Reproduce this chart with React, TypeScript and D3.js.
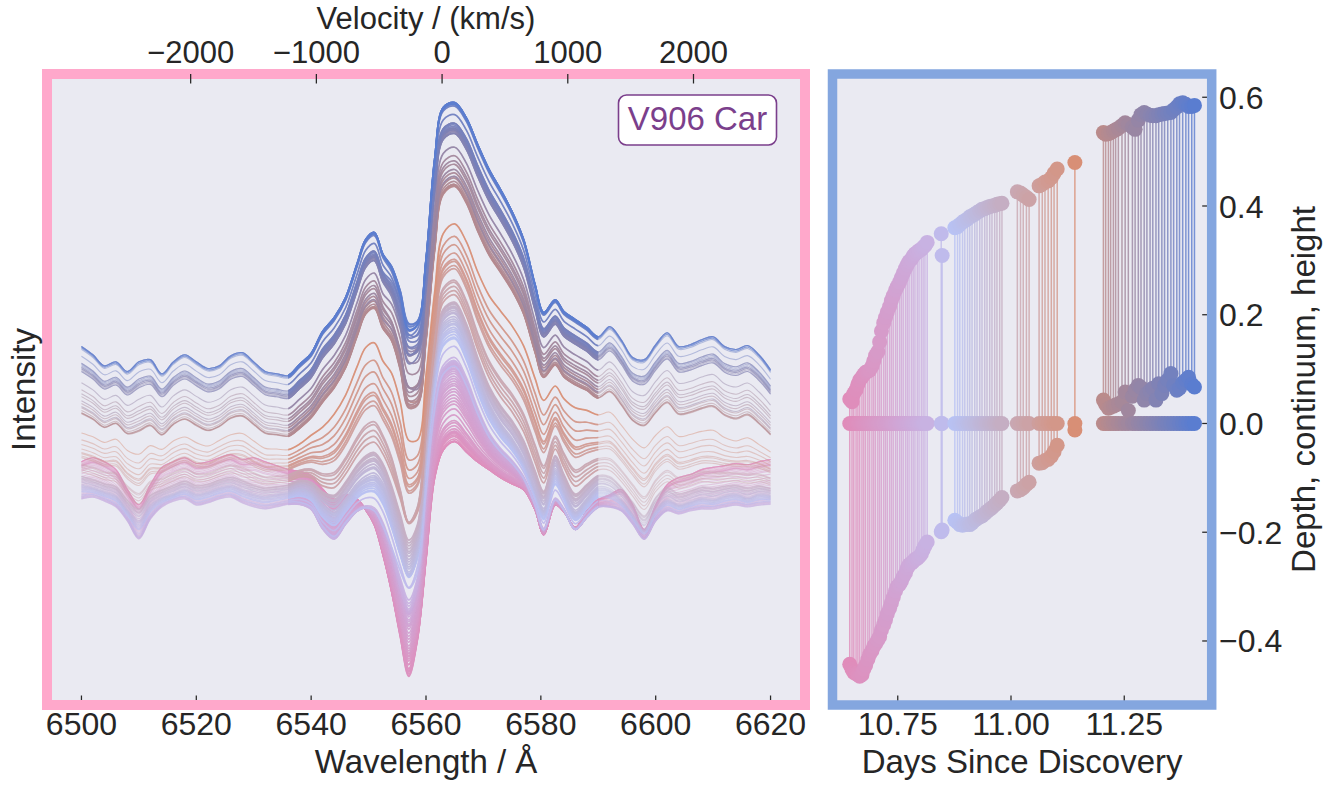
import React from 'react';
import * as d3 from 'd3';

// ---------------- DATA ----------------
// Wavelength grid (Å) on which the spectral profiles were read
const WAVE_GRID = [
  6500, 6502, 6504, 6506, 6508, 6510, 6512, 6514, 6516, 6518, 6520, 6522, 6524, 6526, 6528, 6530, 6532, 6534, 6536, 6538, 6540, 6542, 6544, 6546, 6548,
  6549.5, 6551, 6552.5, 6554, 6555.5, 6557, 6558.5, 6560, 6561.5, 6563,
  6565, 6567, 6569, 6571, 6573, 6575, 6577, 6579,
  6580.5, 6582.5, 6584, 6586, 6588, 6590,
  6592, 6594, 6596, 6598, 6600, 6602, 6604, 6606, 6608, 6610, 6612, 6614, 6616, 6618, 6620,
];

// Representative profiles (normalised intensity)
const TPL_EARLY = [
  1.018, 1.027, 1.018, 1.0, 0.955, 0.92, 0.966, 1.005, 1.018, 1.027, 1.014, 1.018, 1.027, 1.034, 1.023, 1.027, 1.018, 1.009, 1.0, 0.995, 0.986, 0.955, 0.932, 0.943, 0.932,
  0.909, 0.875, 0.807, 0.723, 0.625, 0.536, 0.614, 0.795, 0.982, 1.045,
  1.064, 1.041, 1.018, 1.0, 0.982, 0.968, 0.955, 0.909,
  0.852, 0.92, 0.905, 0.868, 0.905, 0.932,
  0.943, 0.955, 0.92, 0.864, 0.92, 0.966, 0.982, 0.989, 1.0, 1.005, 1.009, 1.014, 1.011, 1.018, 1.023,
];
const TPL_LAV = [
  0.932, 0.936, 0.927, 0.914, 0.882, 0.841, 0.886, 0.914, 0.927, 0.932, 0.918, 0.923, 0.932, 0.936, 0.923, 0.914, 0.909, 0.914, 0.92, 0.92, 0.909, 0.864, 0.841, 0.875, 0.905,
  0.914, 0.909, 0.875, 0.818, 0.75, 0.7, 0.75, 0.955, 1.148, 1.232,
  1.25, 1.205, 1.136, 1.08, 1.045, 1.018, 0.982, 0.92,
  0.864, 0.932, 0.909, 0.864, 0.891, 0.914,
  0.914, 0.905, 0.875, 0.841, 0.882, 0.905, 0.898, 0.905, 0.909, 0.909, 0.914, 0.918, 0.914, 0.918, 0.92,
];
const TPL_PERI = [
  0.966, 0.959, 0.95, 0.941, 0.909, 0.886, 0.92, 0.936, 0.945, 0.955, 0.945, 0.95, 0.959, 0.964, 0.955, 0.945, 0.941, 0.945, 0.95, 0.959, 0.95, 0.92, 0.905, 0.932, 0.966,
  0.982, 0.989, 0.966, 0.909, 0.841, 0.784, 0.83, 1.034, 1.227, 1.33,
  1.345, 1.295, 1.216, 1.148, 1.102, 1.068, 1.023, 0.955,
  0.909, 1.0, 0.955, 0.905, 0.932, 0.959,
  0.955, 0.932, 0.898, 0.864, 0.909, 0.932, 0.92, 0.927, 0.936, 0.932, 0.941, 0.945, 0.936, 0.945, 0.941,
];
const TPL_SALMON = [
  1.095, 1.086, 1.073, 1.082, 1.057, 1.05, 1.068, 1.057, 1.077, 1.086, 1.073, 1.064, 1.077, 1.091, 1.095, 1.077, 1.059, 1.057, 1.055, 1.068, 1.091, 1.114, 1.148, 1.193, 1.261,
  1.307, 1.318, 1.273, 1.239, 1.159, 1.057, 1.068, 1.227, 1.42, 1.557,
  1.58, 1.541, 1.473, 1.42, 1.386, 1.352, 1.307, 1.232,
  1.182, 1.209, 1.182, 1.164, 1.155, 1.141,
  1.148, 1.118, 1.086, 1.068, 1.095, 1.114, 1.091, 1.095, 1.102, 1.105, 1.086, 1.077, 1.086, 1.068, 1.05,
];
const TPL_BROWN = [
  1.131, 1.117, 1.098, 1.107, 1.084, 1.091, 1.103, 1.081, 1.105, 1.117, 1.103, 1.091, 1.1, 1.119, 1.124, 1.105, 1.085, 1.081, 1.078, 1.097, 1.121, 1.158, 1.19, 1.236, 1.308,
  1.359, 1.372, 1.325, 1.293, 1.222, 1.131, 1.143, 1.296, 1.506, 1.634,
  1.651, 1.614, 1.55, 1.495, 1.455, 1.413, 1.359, 1.27,
  1.213, 1.241, 1.214, 1.196, 1.183, 1.165,
  1.18, 1.15, 1.114, 1.103, 1.133, 1.156, 1.129, 1.133, 1.142, 1.147, 1.127, 1.119, 1.128, 1.108, 1.082,
];
const TPL_LATE = [
  1.28, 1.261, 1.236, 1.245, 1.223, 1.245, 1.25, 1.218, 1.245, 1.261, 1.245, 1.23, 1.236, 1.259, 1.266, 1.245, 1.223, 1.218, 1.214, 1.239, 1.264, 1.314, 1.345, 1.391, 1.468,
  1.523, 1.539, 1.489, 1.459, 1.398, 1.318, 1.33, 1.477, 1.705, 1.823,
  1.834, 1.8, 1.739, 1.682, 1.636, 1.586, 1.523, 1.42,
  1.357, 1.386, 1.359, 1.341, 1.323, 1.302,
  1.325, 1.295, 1.255, 1.25, 1.284, 1.311, 1.28, 1.284, 1.295, 1.302, 1.28, 1.273, 1.282, 1.261, 1.227,
];
const TPL_CONT = [1.0, 0.92, 0.955, 1.091, 1.114, 1.25];

// absorption trough shape (weights) around 6557 Å
const TROUGH_WAVES = [6552.5, 6554, 6555.5, 6557, 6558.5, 6560];
const TROUGH_WEIGHTS = [0.05, 0.3, 0.7, 1, 0.6, 0.15];

// Per-spectrum measurements (right panel)
const TIMES = [
  10.644, 10.649, 10.653, 10.658, 10.662, 10.666, 10.671, 10.675, 10.679, 10.684,
  10.688, 10.693, 10.697, 10.701, 10.706, 10.71, 10.714, 10.719, 10.723, 10.727,
  10.732, 10.736, 10.74, 10.745, 10.749, 10.754, 10.758, 10.762, 10.767, 10.771,
  10.775, 10.78, 10.784, 10.788, 10.793, 10.797, 10.802, 10.806, 10.81, 10.815,
  10.846, 10.848,
  10.876, 10.882, 10.887, 10.893, 10.898, 10.904, 10.909, 10.914, 10.92, 10.925,
  10.931, 10.936, 10.942, 10.947, 10.953, 10.958, 10.964, 10.969, 10.975, 10.98,
  11.014, 11.021, 11.027, 11.034, 11.04,
  11.062, 11.069, 11.075, 11.082, 11.089, 11.095, 11.102,
  11.141,
  11.204, 11.209, 11.215, 11.22, 11.226, 11.231, 11.237, 11.245, 11.252, 11.259,
  11.268, 11.274, 11.281, 11.287, 11.294, 11.3, 11.307, 11.313, 11.32, 11.326,
  11.333, 11.339, 11.346, 11.353, 11.359, 11.366, 11.372, 11.379, 11.386, 11.392,
  11.399, 11.405,
];
const HEIGHTS = [
  0.045, 0.04, 0.055, 0.062, 0.072, 0.08, 0.085, 0.09, 0.094, 0.096,
  0.098, 0.105, 0.115, 0.125, 0.132, 0.15, 0.17, 0.185, 0.195, 0.205,
  0.215, 0.226, 0.235, 0.245, 0.252, 0.26, 0.268, 0.276, 0.285, 0.292,
  0.298, 0.302, 0.308, 0.312, 0.315, 0.318, 0.32, 0.324, 0.327, 0.333,
  0.349, 0.309,
  0.36, 0.362, 0.366, 0.37, 0.373, 0.376, 0.38, 0.382, 0.385, 0.388,
  0.391, 0.394, 0.395, 0.397, 0.399, 0.4, 0.401, 0.403, 0.404, 0.405,
  0.426, 0.424, 0.42, 0.416, 0.412,
  0.437, 0.44, 0.444, 0.446, 0.452, 0.46, 0.468,
  0.48,
  0.535, 0.532, 0.533, 0.535, 0.538, 0.54, 0.543, 0.548, 0.553, 0.55,
  0.545, 0.541, 0.558, 0.568, 0.572, 0.569, 0.567, 0.566, 0.566, 0.568,
  0.569, 0.57, 0.571, 0.572, 0.577, 0.582, 0.588, 0.59, 0.587, 0.583,
  0.583, 0.585,
];
const DEPTHS = [
  -0.443, -0.452, -0.458, -0.46, -0.462, -0.465, -0.462, -0.452, -0.445, -0.434,
  -0.425, -0.418, -0.41, -0.405, -0.398, -0.392, -0.38, -0.37, -0.361, -0.35,
  -0.34, -0.33, -0.32, -0.308, -0.3, -0.296, -0.29, -0.282, -0.275, -0.266,
  -0.26, -0.257, -0.254, -0.25, -0.248, -0.245, -0.24, -0.232, -0.225, -0.218,
  -0.199, -0.196,
  -0.178, -0.182, -0.186, -0.187, -0.186, -0.185, -0.186, -0.183, -0.178, -0.175,
  -0.172, -0.17, -0.166, -0.162, -0.158, -0.155, -0.15, -0.146, -0.141, -0.136,
  -0.124, -0.122, -0.118, -0.112, -0.108,
  -0.073, -0.072, -0.068, -0.066, -0.06, -0.052, -0.04,
  -0.012,
  0.043, 0.035, 0.028, 0.03, 0.032, 0.034, 0.036, 0.04, 0.058, 0.024,
  0.05, 0.062, 0.07, 0.066, 0.043, 0.055, 0.06, 0.065, 0.043, 0.073,
  0.055, 0.07, 0.08, 0.092, 0.07, 0.061, 0.065, 0.075, 0.08, 0.085,
  0.072, 0.067,
];

// colour map (time -> colour)
const COLOR_TIMES = [10.645, 10.815, 10.876, 11.141, 11.405];
const COLOR_HEX = ['#e08cba', '#c8b2e2', '#b8c2f4', '#d88f76', '#5a7dd0'];

// ticks
const WAVE_TICKS = [6500, 6520, 6540, 6560, 6580, 6600, 6620];
const VEL_TICKS = [-2000, -1000, 0, 1000, 2000];
const DAY_TICKS = [10.75, 11.0, 11.25];
const DEPTH_TICKS = [-0.4, -0.2, 0.0, 0.2, 0.4, 0.6];
const HIGHLIGHT_RANGE = [6536, 6590];

// ---------------- LAYOUT ----------------
const W = 1337;
const H = 787;
const LP = { x0: 47, x1: 805, y0: 74, y1: 705 };
const RP = { x0: 832.5, x1: 1211.7, y0: 74, y1: 705 };
const FONT = '"Liberation Sans", Arial, "DejaVu Sans", sans-serif';
const INK = '#262626';
const BG = '#eaeaf2';
const H_ALPHA = 6562.8;
const C_KMS = 299792.458;
const TICK_FS = 32;
const LABEL_FS = 33;

const padded = (lo: number, hi: number): [number, number] => {
  const r = hi - lo;
  return [lo - 0.05 * r, hi + 0.05 * r];
};
const minus = (s: string) => s.replace('-', '\u2212');

export default function App() {
  const templates = [TPL_EARLY, TPL_LAV, TPL_PERI, TPL_SALMON, TPL_BROWN, TPL_LATE];
  const iTrough = WAVE_GRID.indexOf(6557);
  const iPeak = WAVE_GRID.indexOf(6565);
  const tplH = templates.map((t, k) => t[iPeak] - TPL_CONT[k]);
  const troughW = WAVE_GRID.map((w) => {
    const j = TROUGH_WAVES.indexOf(w);
    return j < 0 ? 0 : TROUGH_WEIGHTS[j];
  });

  const spectra = TIMES.map((t, i) => {
    const h = HEIGHTS[i];
    let k = 0;
    while (k < tplH.length - 2 && h > tplH[k + 1]) k++;
    let w = (h - tplH[k]) / (tplH[k + 1] - tplH[k]);
    w = Math.max(0, Math.min(1, w));
    const base = WAVE_GRID.map((_, j) => templates[k][j] * (1 - w) + templates[k + 1][j] * w);
    const cont = TPL_CONT[k] * (1 - w) + TPL_CONT[k + 1] * w;
    const corr = DEPTHS[i] - (base[iTrough] - cont);
    const flux = base.map((v, j) => v + corr * troughW[j]);
    return { t, flux };
  });

  const color = d3
    .scaleLinear<string>()
    .domain(COLOR_TIMES)
    .range(COLOR_HEX)
    .interpolate(d3.interpolateRgb)
    .clamp(true);

  // left scales
  const wExt = d3.extent(WAVE_GRID) as [number, number];
  const xL = d3.scaleLinear().domain(padded(wExt[0], wExt[1])).range([LP.x0, LP.x1]);
  const allFlux = spectra.flatMap((s) => s.flux);
  const fExt = d3.extent(allFlux) as [number, number];
  const yL = d3.scaleLinear().domain(padded(fExt[0], fExt[1])).range([LP.y1, LP.y0]);
  const xV = d3
    .scaleLinear()
    .domain(xL.domain().map((l) => C_KMS * (l / H_ALPHA - 1)))
    .range([LP.x0, LP.x1]);

  const line = d3
    .line<number>()
    .x((_, j) => xL(WAVE_GRID[j]))
    .y((v) => yL(v))
    .curve(d3.curveCatmullRom.alpha(0.5));

  // right scales
  const tExt = d3.extent(TIMES) as [number, number];
  const xR = d3.scaleLinear().domain(padded(tExt[0], tExt[1])).range([RP.x0, RP.x1]);
  const vMin = d3.min(DEPTHS.concat([0])) as number;
  const vMax = d3.max(HEIGHTS) as number;
  const yR = d3.scaleLinear().domain(padded(vMin, vMax)).range([RP.y1, RP.y0]);

  const tickLen = 9.5;

  return (
    <svg
      width={W}
      height={H}
      style={{ position: 'absolute', left: 0, top: 0, background: '#ffffff' }}
      fontFamily={FONT}
    >
      <defs>
        <clipPath id="leftClip">
          <rect x={LP.x0} y={LP.y0} width={LP.x1 - LP.x0} height={LP.y1 - LP.y0} />
        </clipPath>
        <clipPath id="hiClip">
          <rect
            x={xL(HIGHLIGHT_RANGE[0])}
            y={LP.y0}
            width={xL(HIGHLIGHT_RANGE[1]) - xL(HIGHLIGHT_RANGE[0])}
            height={LP.y1 - LP.y0}
          />
        </clipPath>
        <clipPath id="rightClip">
          <rect x={RP.x0} y={RP.y0} width={RP.x1 - RP.x0} height={RP.y1 - RP.y0} />
        </clipPath>
      </defs>

      {/* ---------- LEFT PANEL ---------- */}
      <rect x={LP.x0} y={LP.y0} width={LP.x1 - LP.x0} height={LP.y1 - LP.y0} fill={BG} />
      <g clipPath="url(#leftClip)">
        {spectra.map((s, i) => (
          <path
            key={'f' + i}
            d={line(s.flux) || ''}
            fill="none"
            stroke={color(s.t)}
            strokeWidth={1.1}
            strokeOpacity={0.45}
          />
        ))}
      </g>
      <g clipPath="url(#hiClip)">
        {spectra.map((s, i) => (
          <path
            key={'h' + i}
            d={line(s.flux) || ''}
            fill="none"
            stroke={color(s.t)}
            strokeWidth={1.7}
            strokeOpacity={0.9}
          />
        ))}
      </g>
      {/* bottom ticks */}
      {WAVE_TICKS.map((v) => (
        <line key={'wt' + v} x1={xL(v)} x2={xL(v)} y1={LP.y1} y2={LP.y1 - tickLen} stroke={INK} strokeWidth={1.25} />
      ))}
      <rect
        x={LP.x0}
        y={LP.y0}
        width={LP.x1 - LP.x0}
        height={LP.y1 - LP.y0}
        fill="none"
        stroke="#ffa8cb"
        strokeWidth={10}
      />
      {/* top (velocity) ticks drawn over spine */}
      {VEL_TICKS.map((v) => (
        <line key={'vt' + v} x1={xV(v)} x2={xV(v)} y1={LP.y0} y2={LP.y0 + tickLen} stroke={INK} strokeWidth={1.25} />
      ))}
      {VEL_TICKS.map((v) => (
        <text key={'vl' + v} x={xV(v)} y={63} textAnchor="middle" fontSize={31} fill={INK}>
          {minus(String(v))}
        </text>
      ))}
      <text x={(LP.x0 + LP.x1) / 2} y={28.5} textAnchor="middle" fontSize={31} fill={INK}>
        Velocity / (km/s)
      </text>
      {WAVE_TICKS.map((v) => (
        <text key={'wl' + v} x={xL(v)} y={735} textAnchor="middle" fontSize={TICK_FS} fill={INK}>
          {String(v)}
        </text>
      ))}
      <text x={(LP.x0 + LP.x1) / 2} y={773} textAnchor="middle" fontSize={LABEL_FS} fill={INK}>
        Wavelength / Å
      </text>
      <text
        transform={`translate(35, ${(LP.y0 + LP.y1) / 2}) rotate(-90)`}
        textAnchor="middle"
        fontSize={LABEL_FS}
        fill={INK}
      >
        Intensity
      </text>
      {/* label box */}
      <rect x={618.5} y={95} width={158} height={50} rx={8} ry={8} fill="#ffffff" stroke="#7b3f8c" strokeWidth={1.6} />
      <text x={697.5} y={130} textAnchor="middle" fontSize={LABEL_FS} fill="#7b3f8c">
        V906 Car
      </text>

      {/* ---------- RIGHT PANEL ---------- */}
      <rect x={RP.x0} y={RP.y0} width={RP.x1 - RP.x0} height={RP.y1 - RP.y0} fill={BG} />
      <g clipPath="url(#rightClip)">
        {TIMES.map((t, i) => (
          <line
            key={'st' + i}
            x1={xR(t)}
            x2={xR(t)}
            y1={yR(Math.min(DEPTHS[i], HEIGHTS[i]))}
            y2={yR(Math.max(DEPTHS[i], HEIGHTS[i]))}
            stroke={color(t)}
            strokeWidth={1.5}
            strokeOpacity={0.8}
          />
        ))}
        {TIMES.map((t, i) => (
          <circle key={'dd' + i} cx={xR(t)} cy={yR(DEPTHS[i])} r={7.5} fill={color(t)} />
        ))}
        {TIMES.map((t, i) => (
          <circle key={'dz' + i} cx={xR(t)} cy={yR(0)} r={7.5} fill={color(t)} />
        ))}
        {TIMES.map((t, i) => (
          <circle key={'dh' + i} cx={xR(t)} cy={yR(HEIGHTS[i])} r={7.5} fill={color(t)} />
        ))}
      </g>
      {DAY_TICKS.map((v) => (
        <line key={'dt' + v} x1={xR(v)} x2={xR(v)} y1={RP.y1} y2={RP.y1 - tickLen} stroke={INK} strokeWidth={1.25} />
      ))}
      {DEPTH_TICKS.map((v) => (
        <line key={'yt' + v} x1={RP.x1} x2={RP.x1 - tickLen} y1={yR(v)} y2={yR(v)} stroke={INK} strokeWidth={1.25} />
      ))}
      <rect
        x={RP.x0}
        y={RP.y0}
        width={RP.x1 - RP.x0}
        height={RP.y1 - RP.y0}
        fill="none"
        stroke="#84a6df"
        strokeWidth={9.5}
      />
      {DAY_TICKS.map((v) => (
        <text key={'dl' + v} x={xR(v)} y={735} textAnchor="middle" fontSize={TICK_FS} fill={INK}>
          {d3.format('.2f')(v)}
        </text>
      ))}
      <text x={(RP.x0 + RP.x1) / 2} y={773} textAnchor="middle" fontSize={LABEL_FS} fill={INK}>
        Days Since Discovery
      </text>
      {DEPTH_TICKS.map((v) => (
        <text key={'yl' + v} x={1219} y={yR(v)} dy="0.36em" textAnchor="start" fontSize={TICK_FS} fill={INK}>
          {minus(d3.format('.1f')(v))}
        </text>
      ))}
      <text
        transform={`translate(1315, ${(RP.y0 + RP.y1) / 2}) rotate(-90)`}
        textAnchor="middle"
        fontSize={LABEL_FS}
        fill={INK}
      >
        Depth, continuum, height
      </text>
    </svg>
  );
}
